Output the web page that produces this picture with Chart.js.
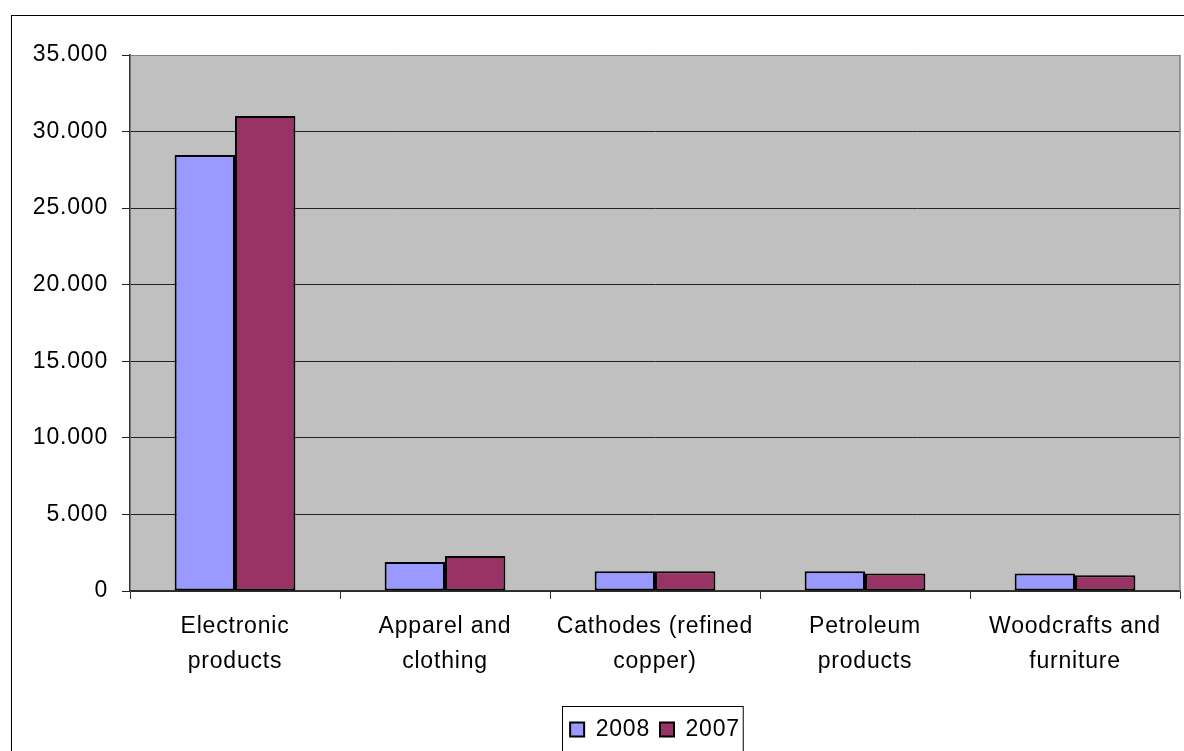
<!DOCTYPE html>
<html>
<head>
<meta charset="utf-8">
<script src="https://cdn.jsdelivr.net/npm/chart.js@4.4.0/dist/chart.umd.min.js"></script>
<style>
    html, body { margin: 0; padding: 0; background: #fff; overflow: hidden; }
    #wrap { width: 1184px; height: 751px; position: relative; }
</style>
</head>
<body>
<div id="wrap"><canvas id="exportChart" width="1184" height="751"></canvas></div>
<script>
// Export values by product group, 2008 vs 2007

const categories = [
    ['Electronic', 'products'],
    ['Apparel and', 'clothing'],
    ['Cathodes (refined', 'copper)'],
    ['Petroleum', 'products'],
    ['Woodcrafts and', 'furniture']
];
const values2008 = [28470, 1900, 1290, 1290, 1140];
const values2007 = [31010, 2290, 1290, 1140, 1030];
const seriesLabels = ['2008', '2007'];
const yMax = 35000;
const yStep = 5000;

const FONT = "'Liberation Sans', Arial, sans-serif";

function formatThousands(v) {
    return String(v).replace(/\B(?=(\d{3})+(?!\d))/g, '.');
}

// the old spreadsheet text runs a little wider than canvas text
const spacingPlugin = {
    id: 'spacing',
    beforeUpdate(chart) { chart.ctx.letterSpacing = '0.8px'; },
    beforeDraw(chart) { chart.ctx.letterSpacing = '0.8px'; }
};

// grey plot background, frame round the chart, box round the legend
const framePlugin = {
    id: 'frame',
    beforeDraw(chart) {
        const ctx = chart.ctx;
        const a = chart.chartArea;
        ctx.save();
        ctx.fillStyle = '#fff';
        ctx.fillRect(0, 0, chart.width, chart.height);
        ctx.fillStyle = '#C0C0C0';
        ctx.fillRect(a.left, a.top, a.right - a.left, a.bottom - a.top);
        ctx.strokeStyle = '#000';
        ctx.lineWidth = 1;
        ctx.strokeRect(11.5, 15.5, 1400, 1000);
        ctx.restore();
    },
    afterDraw(chart) {
        const ctx = chart.ctx;
        const a = chart.chartArea;
        ctx.save();
        ctx.strokeStyle = '#808080';
        ctx.lineWidth = 1.5;
        ctx.beginPath();
        ctx.moveTo(a.right, a.top);
        ctx.lineTo(a.right, a.bottom);
        ctx.stroke();

        const boxes = chart.legend.legendHitBoxes;
        if (boxes && boxes.length) {
            const left = Math.min(...boxes.map(b => b.left)) - 8;
            const right = Math.max(...boxes.map(b => b.left + b.width)) + 3;
            const top = boxes[0].top - 12;
            ctx.strokeStyle = '#000';
            ctx.lineWidth = 1;
            ctx.strokeRect(Math.round(left) + 0.5, Math.round(top) + 0.5, right - left, 200);
        }
        ctx.restore();
    }
};

const ctx = document.getElementById('exportChart').getContext('2d');

new Chart(ctx, {
    type: 'bar',
    data: {
        labels: categories,
        datasets: [{
            label: seriesLabels[0],
            data: values2008,
            backgroundColor: '#9999FF',
            borderColor: '#000',
            borderWidth: 2,
            borderSkipped: false
        }, {
            label: seriesLabels[1],
            data: values2007,
            backgroundColor: '#993366',
            borderColor: '#000',
            borderWidth: 2,
            borderSkipped: false
        }]
    },
    options: {
        responsive: false,
        animation: false,
        devicePixelRatio: 1,
        layout: {
            padding: { top: 55, right: 4, left: 0, bottom: 0 }
        },
        datasets: {
            bar: {
                categoryPercentage: 0.575,
                barPercentage: 1.0
            }
        },
        plugins: {
            legend: {
                display: true,
                position: 'bottom',
                fullSize: false,
                labels: {
                    font: { family: FONT, size: 23 },
                    color: '#000',
                    boxWidth: 14,
                    boxHeight: 14,
                    padding: 10
                }
            },
            tooltip: { enabled: false }
        },
        scales: {
            y: {
                min: 0,
                max: yMax,
                afterFit(scale) { scale.width = 130; },
                ticks: {
                    stepSize: yStep,
                    padding: 14,
                    color: '#000',
                    font: { family: FONT, size: 23 },
                    callback: function(value) {
                        return formatThousands(value);
                    }
                },
                grid: {
                    color: function(c) {
                        return c.tick && c.tick.value === yMax ? '#808080' : '#222';
                    },
                    lineWidth: 1,
                    tickLength: 8,
                    tickColor: '#222'
                },
                border: { color: '#333', width: 1.5 }
            },
            x: {
                afterFit(scale) { scale.height = 117; },
                ticks: {
                    padding: 10,
                    color: '#000',
                    maxRotation: 0,
                    autoSkip: false,
                    font: { family: FONT, size: 23, lineHeight: 1.52 }
                },
                grid: {
                    offset: true,
                    drawOnChartArea: false,
                    drawTicks: true,
                    tickLength: 8,
                    tickColor: '#333'
                },
                border: { color: '#333', width: 1.5 }
            }
        }
    },
    plugins: [spacingPlugin, framePlugin]
});
</script>
</body>
</html>
